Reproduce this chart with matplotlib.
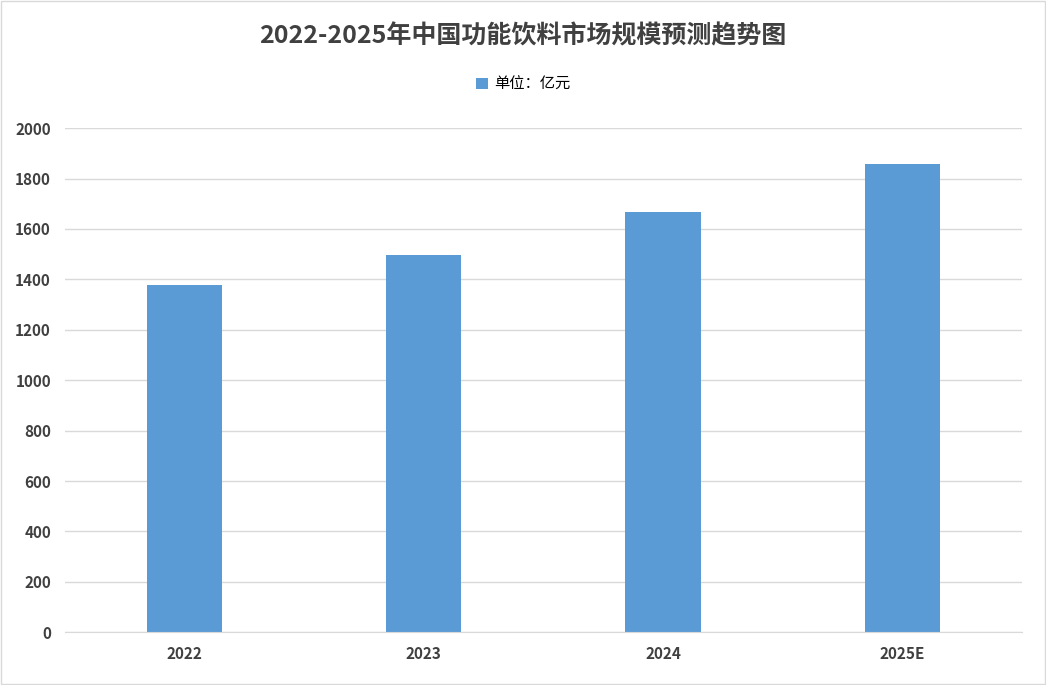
import matplotlib.pyplot as plt
from matplotlib.patches import Rectangle

plt.rcParams['font.family'] = ['Noto Sans CJK SC', 'DejaVu Sans']

years = ['2022', '2023', '2024', '2025E']
values = [1378, 1496, 1667, 1857]
bar_color = '#5B9BD5'

fig = plt.figure(figsize=(10.46, 6.85), dpi=100)
ax = fig.add_axes([0.062, 0.077, 0.915, 0.736])

x = range(len(years))
ax.bar(x, values, width=0.314, color=bar_color, label='单位：亿元', zorder=2)
ax.set_xlim(-0.5, len(years) - 0.5)
ax.set_ylim(0, 2000)
ax.set_yticks(range(0, 2001, 200))
ax.set_xticks(list(x))
ax.set_xticklabels(years, fontweight='bold', fontsize=11, color='#404040')
for lab in ax.get_yticklabels():
    lab.set_fontweight('bold')
    lab.set_fontsize(11)
    lab.set_color('#404040')
ax.grid(axis='y', color='#D9D9D9', linewidth=1, zorder=0)
ax.tick_params(length=0, pad=10)
for s in ['top', 'right', 'left']:
    ax.spines[s].set_visible(False)
ax.spines['bottom'].set_color('#D9D9D9')

fig.text(0.5, 0.947, '2022-2025年中国功能饮料市场规模预测趋势图', ha='center', va='center',
         fontsize=18, fontweight='bold', color='#404040')
fig.legend(loc='center', bbox_to_anchor=(0.5, 0.877), frameon=False, fontsize=11,
           handlelength=0.8, handleheight=0.8, handletextpad=0.4)

fig.patches.append(Rectangle((0.001, 0.001), 0.998, 0.998, transform=fig.transFigure,
                             fill=False, edgecolor='#D9D9D9', linewidth=1))

fig.savefig('out.png', dpi=100)
